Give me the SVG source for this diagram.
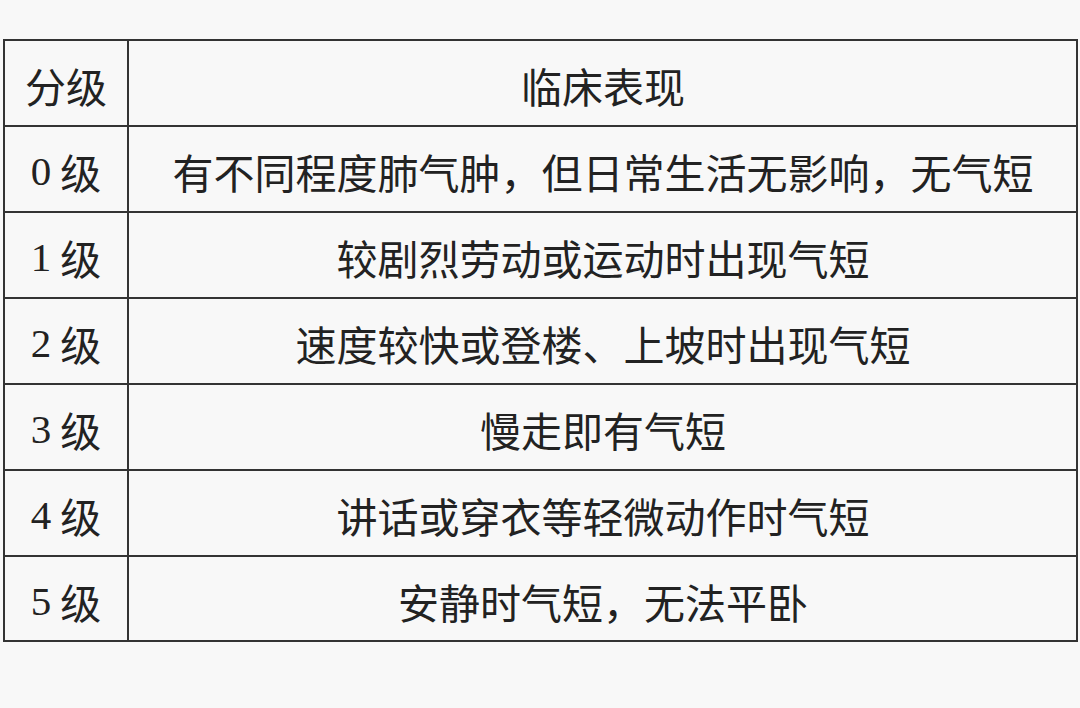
<svg xmlns="http://www.w3.org/2000/svg" width="1080" height="708" viewBox="0 0 1080 708">
<style>
.g{stroke:#333;stroke-width:2;fill:none}
text{font-family:"Noto Sans CJK SC",sans-serif;font-size:41px;fill:#222;text-anchor:middle;dominant-baseline:central}
.n{font-family:"Liberation Serif","Noto Sans CJK SC",serif}
</style>
<rect width="1080" height="708" fill="#f8f8f8"/>
<g id="grid">
<rect class="g" x="4" y="40" width="1073" height="601" fill="#fbfbfb"/>
<path class="g" d="M128 40V641M4 126H1077M4 212H1077M4 298H1077M4 384H1077M4 470H1077M4 556H1077"/>
</g>
<g id="header"><text x="66" y="85">分级</text><text x="603" y="85">临床表现</text></g>
<g id="r0"><text x="66" y="171"><tspan class="n">0</tspan> 级</text><text x="603" y="171">有不同程度肺气肿，但日常生活无影响，无气短</text></g>
<g id="r1"><text x="66" y="257"><tspan class="n">1</tspan> 级</text><text x="603" y="257">较剧烈劳动或运动时出现气短</text></g>
<g id="r2"><text x="66" y="343"><tspan class="n">2</tspan> 级</text><text x="603" y="343">速度较快或登楼、上坡时出现气短</text></g>
<g id="r3"><text x="66" y="429"><tspan class="n">3</tspan> 级</text><text x="603" y="429">慢走即有气短</text></g>
<g id="r4"><text x="66" y="515"><tspan class="n">4</tspan> 级</text><text x="603" y="515">讲话或穿衣等轻微动作时气短</text></g>
<g id="r5"><text x="66" y="601"><tspan class="n">5</tspan> 级</text><text x="603" y="601">安静时气短，无法平卧</text></g>
</svg>
